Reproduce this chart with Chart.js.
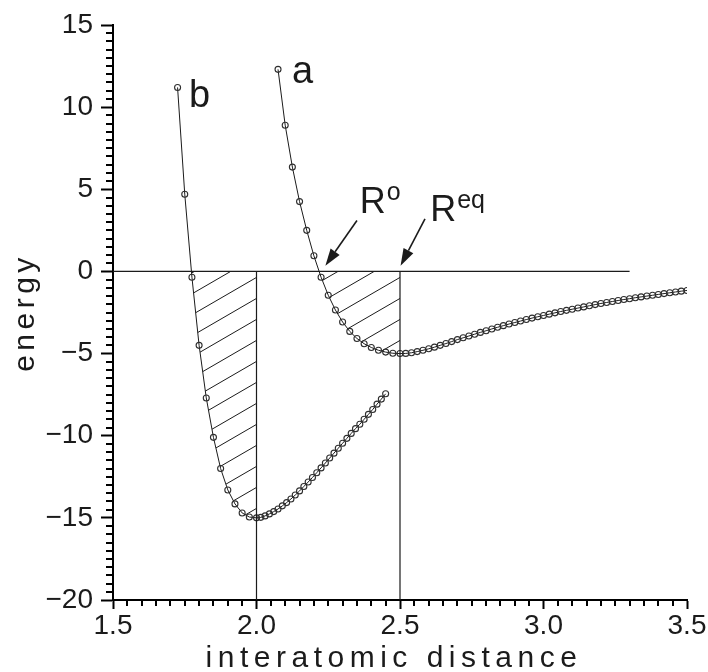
<!DOCTYPE html>
<html>
<head>
<meta charset="utf-8">
<script src="https://cdn.jsdelivr.net/npm/chart.js@4.4.1/dist/chart.umd.min.js"></script>
<style>
  html, body { margin: 0; padding: 0; background: #fff; }
  canvas { display: block; }
</style>
</head>
<body>
<canvas id="c" width="708" height="672"></canvas>
<script>
// Potential curve a (weakly bound)
const distA = [
  2.075, 2.100, 2.125, 2.150, 2.175, 2.200, 2.225, 2.250, 2.275, 2.300,
  2.325, 2.350, 2.375, 2.400, 2.425, 2.450, 2.475, 2.500, 2.520, 2.540,
  2.560, 2.580, 2.600, 2.620, 2.640, 2.660, 2.680, 2.700, 2.720, 2.740,
  2.760, 2.780, 2.800, 2.820, 2.840, 2.860, 2.880, 2.900, 2.920, 2.940,
  2.960, 2.980, 3.000, 3.020, 3.040, 3.060, 3.080, 3.100, 3.120, 3.140,
  3.160, 3.180, 3.200, 3.220, 3.240, 3.260, 3.280, 3.300, 3.320, 3.340,
  3.360, 3.380, 3.400, 3.420, 3.440, 3.460, 3.480, 3.500
];
const energyA = [
  12.3, 8.9, 6.35, 4.25, 2.5, 0.95, -0.35, -1.45, -2.35, -3.08,
  -3.65, -4.08, -4.40, -4.63, -4.80, -4.91, -4.98, -5.00, -4.99, -4.95,
  -4.88, -4.80, -4.71, -4.61, -4.50, -4.39, -4.27, -4.15, -4.04, -3.93,
  -3.82, -3.71, -3.61, -3.50, -3.40, -3.30, -3.20, -3.11, -3.02, -2.93,
  -2.84, -2.76, -2.68, -2.60, -2.52, -2.44, -2.37, -2.30, -2.23, -2.16,
  -2.09, -2.02, -1.95, -1.89, -1.83, -1.77, -1.71, -1.66, -1.60, -1.55,
  -1.50, -1.45, -1.40, -1.35, -1.30, -1.25, -1.20, -1.16
];

// Potential curve b (strongly bound)
const distB = [
  1.725, 1.750, 1.775, 1.800, 1.825, 1.850, 1.875, 1.900, 1.925, 1.950,
  1.975, 2.000, 2.015, 2.030, 2.045, 2.060, 2.075, 2.090, 2.105, 2.120,
  2.135, 2.150, 2.165, 2.180, 2.195, 2.210, 2.225, 2.240, 2.255, 2.270,
  2.285, 2.300, 2.315, 2.330, 2.345, 2.360, 2.375, 2.390, 2.405, 2.420,
  2.435, 2.450
];
const energyB = [
  11.2, 4.7, -0.35, -4.5, -7.7, -10.1, -12.0, -13.3, -14.15, -14.7,
  -14.95, -15.0, -14.97, -14.88, -14.76, -14.62, -14.46, -14.27, -14.07, -13.85,
  -13.61, -13.36, -13.09, -12.82, -12.54, -12.25, -11.96, -11.66, -11.36, -11.06,
  -10.76, -10.46, -10.16, -9.86, -9.57, -9.30, -9.00, -8.70, -8.40, -8.08,
  -7.77, -7.45
];

// Reference line at zero energy and the equilibrium distances of b and a
const zeroLineSpan = [1.5, 3.3];
const equilibriumDistances = [2.0, 2.5];
const yBottom = -20;

// Tick labels
const xTickValues = [1.5, 2.0, 2.5, 3.0, 3.5];
const xTickLabels = ['1.5', '2.0', '2.5', '3.0', '3.5'];
const yTickValues = [-20, -15, -10, -5, 0, 5, 10, 15];
const yTickLabels = ['\u221220', '\u221215', '\u221210', '\u22125', '0', '5', '10', '15'];

// Minor tick steps
const xMinorStep = 0.05;
const yMinorStep = 0.5;

// Text annotations, anchored at data coordinates
const curveNames = ['a', 'b'];
const curveNameAnchors = [[2.124, 11.5], [1.765, 10.0]];
const arrowNames = [['R', 'o'], ['R', 'eq']];
const arrowTextAnchors = [[2.36, 3.55], [2.605, 3.1]];
const arrowTails = [[2.35, 3.1], [2.587, 3.2]];
const arrowTips = [[2.24, 0.35], [2.502, 0.35]];

const FONT = '"Liberation Sans", Arial, Helvetica, sans-serif';
const ink = '#1b1b1b';

const toPoints = (xs, ys) => xs.map((v, i) => ({ x: v, y: ys[i] }));

// Diagonal hatching between each curve's inner wall, zero energy and its minimum
const hatchPlugin = {
  id: 'hatch',
  beforeDatasetsDraw(chart) {
    const { ctx, chartArea, scales: { x, y } } = chart;
    const y0 = y.getPixelForValue(0);
    const regions = [[distB, energyB, equilibriumDistances[0]], [distA, energyA, equilibriumDistances[1]]];
    regions.forEach(([xs, ys, edge]) => {
      const xr = x.getPixelForValue(edge);
      ctx.save();
      ctx.beginPath();
      ctx.rect(chartArea.left, y0, chartArea.right - chartArea.left, chartArea.bottom - y0);
      ctx.clip();
      ctx.beginPath();
      let started = false;
      xs.forEach((v, i) => {
        if (v > edge + 1e-9) return;
        const px = x.getPixelForValue(v), py = y.getPixelForValue(ys[i]);
        if (!started) { ctx.moveTo(px, py); started = true; } else ctx.lineTo(px, py);
      });
      ctx.lineTo(xr, chartArea.top);
      ctx.closePath();
      ctx.clip();
      ctx.strokeStyle = ink;
      ctx.lineWidth = 1;
      ctx.beginPath();
      const gap = 21, slope = 0.58;
      for (let k = -20; k < 30; k++) {
        const yr = y0 + 6 + k * gap;
        ctx.moveTo(xr - 400, yr + 400 * slope);
        ctx.lineTo(xr + 4, yr - 4 * slope);
      }
      ctx.stroke();
      ctx.restore();
    });
  }
};

// Minor ticks on both axes, placed through the scales
const minorTickPlugin = {
  id: 'minorTicks',
  afterDraw(chart) {
    const { ctx, scales: { x, y } } = chart;
    const left = y.right, bottom = x.top;
    ctx.save();
    ctx.fillStyle = '#000';
    const ny = Math.round((y.max - y.min) / yMinorStep);
    for (let i = 1; i < ny; i++) {
      if (i % 10 === 0) continue;
      const py = Math.round(y.getPixelForValue(y.min + i * yMinorStep));
      ctx.fillRect(left - 7, py - 1, 7, 2);
    }
    const nx = Math.round((x.max - x.min) / xMinorStep);
    for (let i = 1; i < nx; i++) {
      if (i % 10 === 0) continue;
      const px = Math.round(x.getPixelForValue(x.min + i * xMinorStep));
      ctx.fillRect(px - 1, bottom, 2, 6);
    }
    ctx.restore();
  }
};

// Axis titles, curve names and arrows
const decorPlugin = {
  id: 'decor',
  afterDraw(chart) {
    const { ctx, chartArea, scales: { x, y } } = chart;
    ctx.save();
    ctx.fillStyle = ink;
    ctx.strokeStyle = ink;
    // axis titles
    ctx.font = '30px ' + FONT;
    ctx.letterSpacing = '5.5px';
    ctx.textAlign = 'center';
    ctx.textBaseline = 'alphabetic';
    ctx.fillText('interatomic distance', (chartArea.left + chartArea.right) / 2 - 6, 667);
    ctx.letterSpacing = '4.5px';
    ctx.save();
    ctx.translate(34, (chartArea.top + chartArea.bottom) / 2);
    ctx.rotate(-Math.PI / 2);
    ctx.fillText('energy', 0, 0);
    ctx.restore();
    ctx.letterSpacing = '0px';

    // curve names
    ctx.textAlign = 'left';
    ctx.font = '38px ' + FONT;
    curveNames.forEach((t, i) => {
      const [vx, vy] = curveNameAnchors[i];
      ctx.fillText(t, x.getPixelForValue(vx), y.getPixelForValue(vy));
    });

    // arrow labels with superscripts
    arrowNames.forEach(([main, sup], i) => {
      const [vx, vy] = arrowTextAnchors[i];
      const px = x.getPixelForValue(vx), py = y.getPixelForValue(vy);
      ctx.font = '36px ' + FONT;
      ctx.fillText(main, px, py);
      const w = ctx.measureText(main).width;
      ctx.font = '25px ' + FONT;
      ctx.fillText(sup, px + w + 1, py - 13);
    });

    // arrows
    ctx.lineWidth = 1.6;
    arrowTails.forEach((tail, i) => {
      const tx = x.getPixelForValue(tail[0]), ty = y.getPixelForValue(tail[1]);
      const hx = x.getPixelForValue(arrowTips[i][0]), hy = y.getPixelForValue(arrowTips[i][1]);
      const ang = Math.atan2(hy - ty, hx - tx);
      const len = 17, half = 5.5;
      const bx = hx - len * Math.cos(ang), by = hy - len * Math.sin(ang);
      ctx.beginPath();
      ctx.moveTo(tx, ty);
      ctx.lineTo(bx, by);
      ctx.stroke();
      ctx.beginPath();
      ctx.moveTo(hx, hy);
      ctx.lineTo(bx + half * Math.sin(ang), by - half * Math.cos(ang));
      ctx.lineTo(bx - half * Math.sin(ang), by + half * Math.cos(ang));
      ctx.closePath();
      ctx.fill();
    });
    ctx.restore();
  }
};

const curveStyle = {
  showLine: true,
  borderColor: ink,
  borderWidth: 1,
  pointRadius: 3,
  pointBorderWidth: 1.1,
  pointBorderColor: '#2e2e2e',
  pointBackgroundColor: 'rgba(255,255,255,0)',
  tension: 0
};

const lineStyle = { showLine: true, borderColor: ink, borderWidth: 1.2, pointRadius: 0 };

new Chart(document.getElementById('c'), {
  type: 'scatter',
  data: {
    datasets: [
      { data: toPoints(zeroLineSpan, [0, 0]), ...lineStyle },
      ...equilibriumDistances.map(d => ({ data: toPoints([d, d], [0, yBottom]), ...lineStyle })),
      { data: toPoints(distB, energyB), ...curveStyle },
      { data: toPoints(distA, energyA), ...curveStyle }
    ]
  },
  options: {
    responsive: false,
    animation: false,
    devicePixelRatio: 1,
    layout: { padding: { left: 0, top: 25, right: 21, bottom: 0 } },
    plugins: { legend: { display: false }, tooltip: { enabled: false } },
    scales: {
      x: {
        type: 'linear',
        min: 1.5, max: 3.5,
        afterFit(s) { s.height = 72; },
        afterBuildTicks(s) { s.ticks = xTickValues.map(v => ({ value: v })); },
        ticks: {
          autoSkip: false, maxRotation: 0, padding: 0,
          color: ink,
          font: { family: FONT, size: 28 },
          callback: v => xTickLabels[xTickValues.findIndex(t => Math.abs(t - v) < 1e-6)] ?? ''
        },
        grid: { drawOnChartArea: false, tickLength: 9, tickWidth: 2, tickColor: '#000' },
        border: { color: '#000', width: 2 }
      },
      y: {
        type: 'linear',
        min: -20, max: 15,
        afterFit(s) { s.width = 113; },
        afterBuildTicks(s) { s.ticks = yTickValues.map(v => ({ value: v })); },
        ticks: {
          autoSkip: false, padding: 8,
          color: ink,
          font: { family: FONT, size: 28 },
          callback: v => yTickLabels[yTickValues.indexOf(v)] ?? ''
        },
        grid: { drawOnChartArea: false, tickLength: 12, tickWidth: 2, tickColor: '#000' },
        border: { color: '#000', width: 2 }
      }
    }
  },
  plugins: [hatchPlugin, minorTickPlugin, decorPlugin]
});
</script>
</body>
</html>
